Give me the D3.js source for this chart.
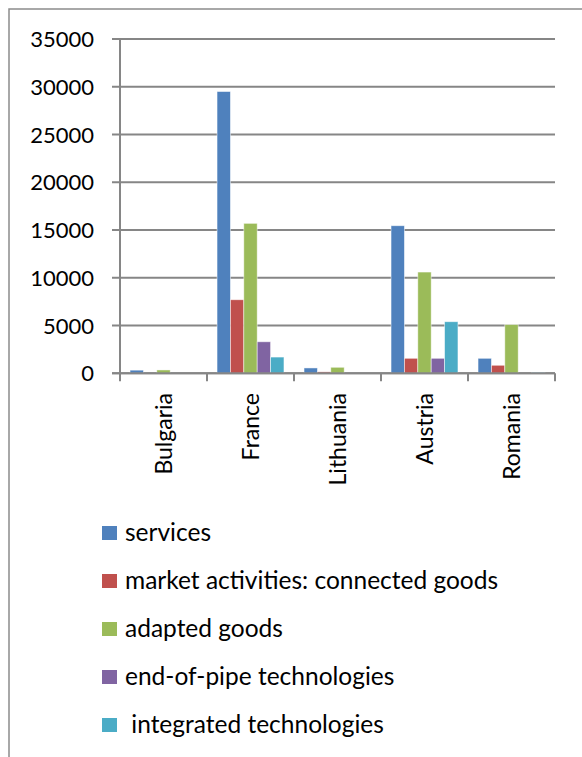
<!DOCTYPE html>
<html>
<head>
<meta charset="utf-8">
<script src="https://cdn.jsdelivr.net/npm/d3@7"></script>
<style>
  body { margin: 0; background: #fff; }
  svg { display: block; font-family: Lato, "Open Sans", sans-serif; }
</style>
</head>
<body>
<script>
// chart data
var categories = ['Bulgaria', 'France', 'Lithuania', 'Austria', 'Romania'];
var seriesNames = ['services', 'market activities: connected goods', 'adapted goods',
                   'end-of-pipe technologies', ' integrated technologies'];
var services   = [330, 29500, 560, 15450, 1570];
var connected  = [0, 7700, 150, 1570, 840];
var adapted    = [350, 15700, 630, 10600, 5100];
var endOfPipe  = [0, 3300, 0, 1570, 0];
var integrated = [0, 1700, 0, 5400, 100];
var yTicks = [0, 5000, 10000, 15000, 20000, 25000, 30000, 35000];
var colors = ['#4f81bd', '#c0504d', '#9bbb59', '#8064a2', '#4bacc6'];

var seriesValues = [services, connected, adapted, endOfPipe, integrated];

var W = 582, H = 757;
var svg = d3.select(document.body).append('svg')
    .attr('width', W)
    .attr('height', H);

// outer frame (left and top edges only are visible)
svg.append('path')
    .attr('d', 'M9,' + H + 'V9H' + W)
    .attr('fill', 'none')
    .attr('stroke', '#8c8c8c')
    .attr('stroke-width', 1.5);

var x = d3.scaleBand().domain(categories).range([120, 555]);
var xs = d3.scaleBand().domain(d3.range(seriesNames.length))
    .range([0, x.bandwidth()]).paddingInner(0).paddingOuter(0.75);
var y = d3.scaleLinear().domain([0, 35000]).range([373.3, 39]);

// gridlines
svg.append('g').selectAll('line').data(yTicks).enter().append('line')
    .attr('x1', 112).attr('x2', 555)
    .attr('y1', function(d) { return y(d); })
    .attr('y2', function(d) { return y(d); })
    .attr('stroke', '#868686')
    .attr('stroke-width', 2);

// y labels
svg.append('g').selectAll('text').data(yTicks).enter().append('text')
    .attr('x', 94)
    .attr('y', function(d) { return y(d) + 8; })
    .attr('text-anchor', 'end')
    .attr('font-size', 22)
    .attr('fill', '#000')
    .text(function(d) { return d; });

// bars
var groups = svg.append('g').selectAll('g').data(categories).enter().append('g')
    .attr('transform', function(d) { return 'translate(' + x(d) + ',0)'; });
groups.selectAll('rect')
    .data(function(c, ci) {
      return seriesValues.map(function(vals, si) { return {s: si, v: vals[ci]}; });
    })
    .enter().append('rect')
    .filter(function(d) { return d.v > 0; })
    .attr('x', function(d) { return xs(d.s); })
    .attr('width', xs.bandwidth())
    .attr('y', function(d) { return y(d.v); })
    .attr('height', function(d) { return y(0) - y(d.v); })
    .attr('fill', function(d) { return colors[d.s]; })
    .attr('stroke', '#fff')
    .attr('stroke-opacity', 0.6)
    .attr('stroke-width', 0.8);

// axes lines
svg.append('line')
    .attr('x1', 120).attr('x2', 120).attr('y1', y(35000)).attr('y2', y(0))
    .attr('stroke', '#868686').attr('stroke-width', 2);
svg.append('line')
    .attr('x1', 112).attr('x2', 555).attr('y1', y(0)).attr('y2', y(0))
    .attr('stroke', '#868686').attr('stroke-width', 2);

// category ticks
var tickXs = categories.map(function(c) { return x(c); }).concat([x.range()[1]]);
svg.append('g').selectAll('line').data(tickXs).enter().append('line')
    .attr('x1', function(d) { return d; })
    .attr('x2', function(d) { return d; })
    .attr('y1', y(0)).attr('y2', y(0) + 8)
    .attr('stroke', '#868686').attr('stroke-width', 2);

// category labels, rotated
svg.append('g').selectAll('text').data(categories).enter().append('text')
    .attr('transform', function(d) {
      return 'translate(' + (x(d) + x.bandwidth() / 2 + 8) + ',393) rotate(-90)';
    })
    .attr('text-anchor', 'end')
    .attr('font-size', 23)
    .attr('fill', '#000')
    .text(function(d) { return d; });

// legend
var legend = svg.append('g').selectAll('g').data(seriesNames).enter().append('g')
    .attr('transform', function(d, i) { return 'translate(102,' + (533 + i * 48) + ')'; });
legend.append('rect')
    .attr('x', 0).attr('y', -7)
    .attr('width', 15).attr('height', 14)
    .attr('fill', function(d, i) { return colors[i]; });
legend.append('text')
    .attr('x', 23).attr('y', 8)
    .attr('font-size', 24.5)
    .attr('fill', '#000')
    .attr('xml:space', 'preserve')
    .style('white-space', 'pre')
    .text(function(d) { return d; });
</script>
</body>
</html>
